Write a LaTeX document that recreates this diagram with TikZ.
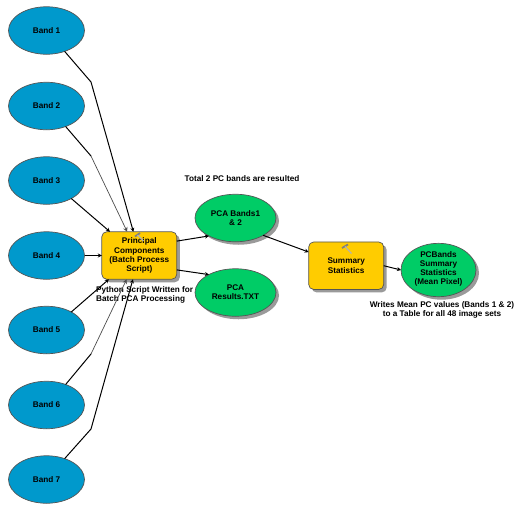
\documentclass[tikz,border=0pt]{standalone}
\usepackage{fontspec}
\setmainfont{Liberation Sans}
\usetikzlibrary{shadows,arrows.meta,shapes.geometric}
\definecolor{bandblue}{HTML}{0099CC}
\definecolor{outgreen}{HTML}{00CC66}
\definecolor{toolyellow}{HTML}{FFCC00}
\definecolor{edgegrey}{HTML}{555555}
\definecolor{shade}{HTML}{9A9A9A}
\tikzset{
  x=1pt,y=-1pt,
  lbl/.style={font=\fontsize{8.2}{9.2}\selectfont\bfseries,align=center,text=black},
  sdw/.style={drop shadow={shadow xshift=3pt,shadow yshift=-3pt,fill=shade,opacity=1}},
  band/.style={ellipse,draw=edgegrey,line width=0.7pt,fill=bandblue,minimum width=76pt,minimum height=47.5pt,inner sep=0pt,outer sep=0pt,lbl},
  result/.style={ellipse,draw=edgegrey,line width=0.7pt,fill=outgreen,sdw,minimum width=81pt,minimum height=47.5pt,inner sep=0pt,outer sep=0pt,lbl},
  tool/.style={rectangle,rounded corners=5pt,draw=edgegrey,line width=0.7pt,fill=toolyellow,sdw,minimum width=75pt,minimum height=47.5pt,inner sep=0pt,outer sep=0pt,lbl},
  note/.style={lbl,inner sep=0pt},
  link/.style={line width=1pt,draw=black,-{Stealth[length=4pt,width=4pt]}},
  thinlink/.style={line width=0.7pt,draw=black!70,-{Stealth[length=4.5pt,width=4.5pt]}},
  plain/.style={line width=1pt,draw=black},
  hammerhead/.style={line width=1.8pt,draw=black!50},
  hammerhandle/.style={line width=1.2pt,draw=black!30},
}
\begin{document}
\begin{tikzpicture}
\useasboundingbox (0,0) rectangle (519,512);
\node[band] (b1) at (46.5,30.5) {Band 1};
\node[band] (b2) at (46.5,106) {Band 2};
\node[band] (b3) at (46.5,180.5) {Band 3};
\node[band] (b4) at (46.5,255.5) {Band 4};
\node[band] (b5) at (46.5,330) {Band 5};
\node[band] (b6) at (46.5,405) {Band 6};
\node[band] (b7) at (46.5,479.5) {Band 7};
\node[tool] (pca) at (139.3,255.5) {Principal\\Components\\(Batch Process\\Script)};
\node[result] (pcb) at (235.5,218) {PCA Bands1\\\& 2};
\node[result] (pcr) at (235.5,292.5) {PCA\\Results.TXT};
\node[tool] (sum) at (346.2,265.7) {Summary\\Statistics};
\node[result,minimum width=75pt] (pcs) at (438.5,270) {PCBands\\Summary\\Statistics\\(Mean Pixel)\\[-5pt]\mbox{}};
\node[note,align=left,anchor=west] (n1) at (96,294.7) {Python Script Written for\\Batch PCA Processing};
\node[note] (n2) at (242,179) {Total 2 PC bands are resulted};
\node[note] (n3) at (442,310) {Writes Mean PC values (Bands 1 \& 2)\\to a Table for all 48 image sets};
\coordinate (w1) at (91,82);
\coordinate (w2) at (91,156);
\coordinate (w6) at (91,354);
\coordinate (w7) at (91,429);
\draw[link] (b1.-49) -- (w1) -- (pca.104.9);
\draw[plain] (b2.-47) -- (w2);
\draw[thinlink] (w2) -- (pca.117.5);
\draw[link] (b3.-36) -- (pca.141.2);
\draw[link] (b4.east) -- (pca.west);
\draw[link] (b5.36) -- (pca.218.8);
\draw[plain] (b6.47) -- (w6);
\draw[thinlink] (w6) -- (pca.242.5);
\draw[link] (b7.49) -- (w7) -- (pca.255.1);
\draw[link] (pca.21.2) -- (pcb.214);
\draw[link] (pca.-21.2) -- (pcr.146);
\draw[link] (pcb.-32) -- (sum.160);
\draw[link] (sum.east) -- (pcs.west);
\draw[hammerhead] (135,236.5) -- (140,233);
\draw[hammerhandle] (137.5,235) -- (143.5,241);
\draw[hammerhead] (342,248) -- (348,244.5);
\draw[hammerhandle] (345,246.5) -- (351.5,253.5);
\end{tikzpicture}
\end{document}
